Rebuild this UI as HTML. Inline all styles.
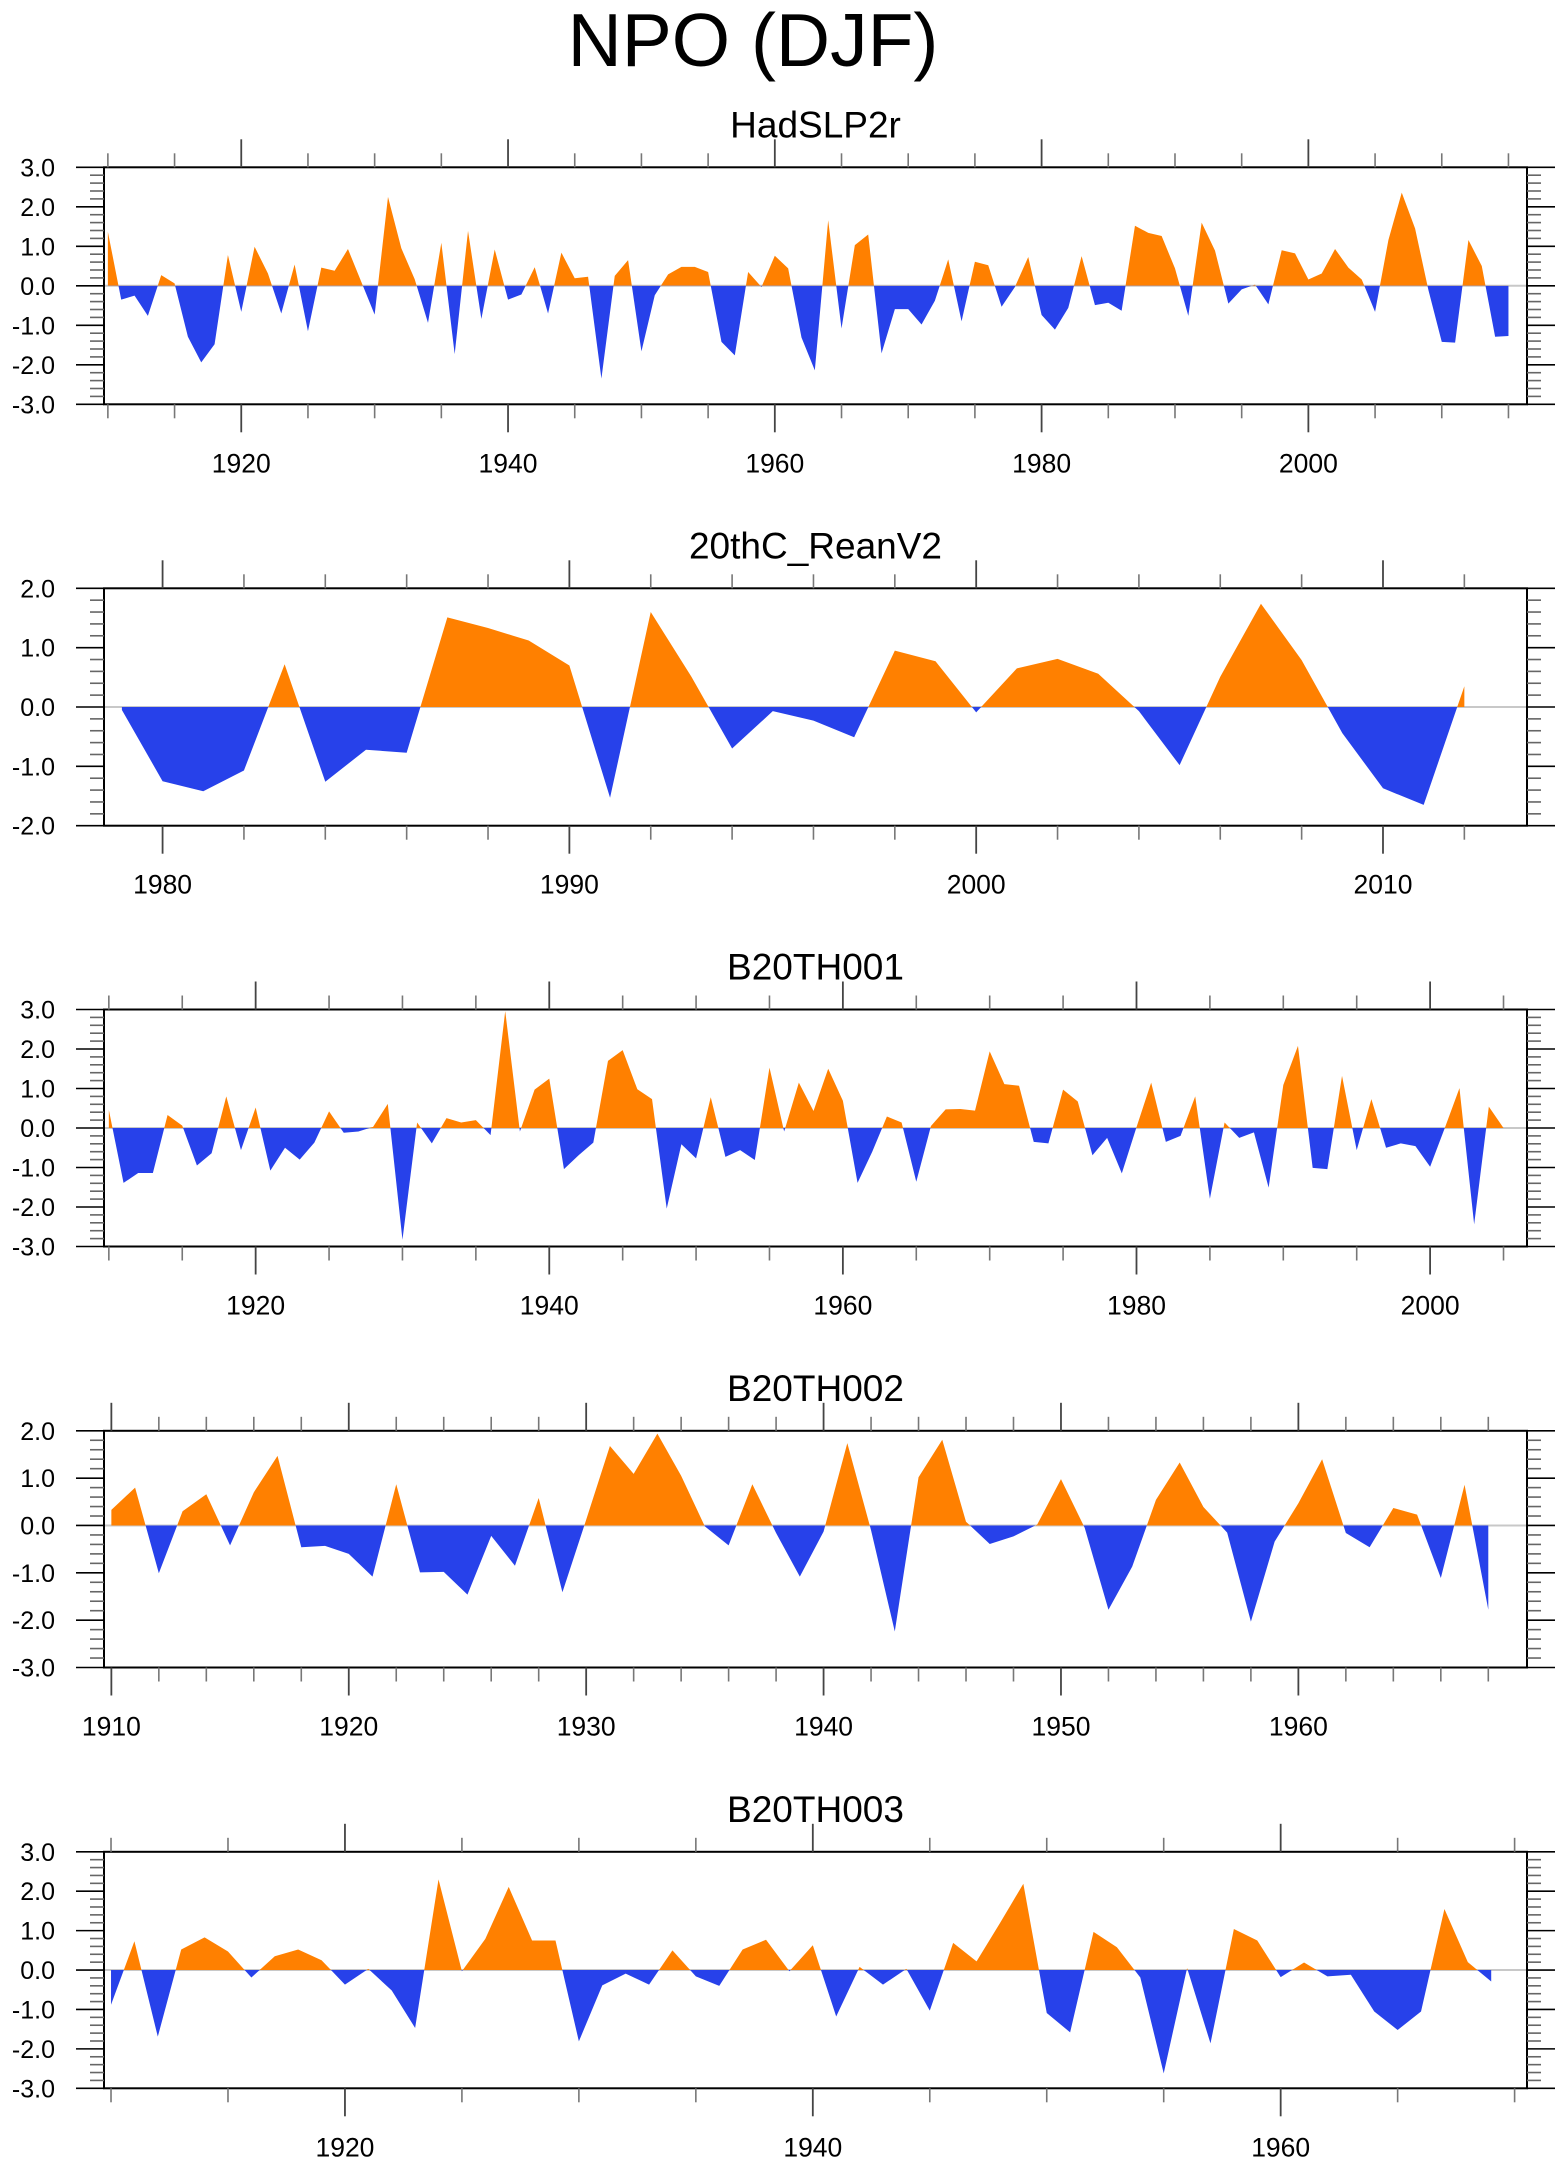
<!DOCTYPE html>
<html>
<head>
<meta charset="utf-8">
<style>
  html, body { margin: 0; padding: 0; background: #fff; }
  body { width: 1560px; height: 2165px; overflow: hidden; }
  svg text { font-family: "Liberation Sans", "DejaVu Sans", sans-serif; fill: #000; }
</style>
</head>
<body>
<svg id="chart" xmlns="http://www.w3.org/2000/svg" width="1560" height="2165" viewBox="0 0 1560 2165">
  <rect x="0" y="0" width="1560" height="2165" fill="#fff"/>
  <text x="753" y="66" font-size="75" text-anchor="middle">NPO (DJF)</text>
</svg>
<script>
// ---------- DATA ----------
const hadYears = [1910, 2015];
const hadValues = [1.37,-0.35,-0.25,-0.76,0.27,0.06,-1.29,-1.94,-1.48,0.78,
  -0.66,0.99,0.31,-0.70,0.54,-1.15,0.46,0.38,0.93,0.10,
  -0.73,2.25,0.95,0.17,-0.94,1.09,-1.73,1.39,-0.84,0.92,
  -0.35,-0.22,0.47,-0.70,0.84,0.19,0.23,-2.35,0.25,0.65,
  -1.66,-0.24,0.29,0.48,0.48,0.35,-1.42,-1.76,0.35,-0.03,
  0.76,0.44,-1.31,-2.14,1.66,-1.08,1.03,1.30,-1.71,-0.59,
  -0.59,-0.98,-0.38,0.67,-0.90,0.61,0.52,-0.53,-0.03,0.73,
  -0.74,-1.11,-0.56,0.75,-0.49,-0.43,-0.63,1.52,1.34,1.26,
  0.44,-0.76,1.60,0.89,-0.45,-0.09,0.03,-0.47,0.90,0.82,
  0.16,0.31,0.93,0.46,0.16,-0.66,1.16,2.36,1.45,-0.11,
  -1.42,-1.44,1.16,0.50,-1.29,-1.27];

const reanYears = [1979, 2012];
const reanValues = [-0.05,-1.25,-1.42,-1.07,0.72,-1.26,-0.72,-0.77,1.51,1.33,
  1.12,0.70,-1.53,1.60,0.51,-0.70,-0.07,-0.23,-0.51,0.95,
  0.77,-0.09,0.65,0.81,0.56,-0.07,-0.98,0.51,1.74,0.79,
  -0.44,-1.37,-1.65,0.35];

const b001Years = [1910, 2005];
const b001Values = [0.46,-1.39,-1.14,-1.14,0.33,0.06,-0.95,-0.64,0.80,-0.56,
  0.52,-1.08,-0.50,-0.80,-0.37,0.42,-0.12,-0.09,0.03,0.61,
  -2.83,0.14,-0.39,0.25,0.14,0.20,-0.18,2.96,-0.09,0.97,
  1.25,-1.04,-0.69,-0.37,1.70,1.97,0.98,0.73,-2.04,-0.41,
  -0.77,0.78,-0.73,-0.56,-0.81,1.53,-0.09,1.15,0.43,1.50,
  0.69,-1.39,-0.60,0.29,0.14,-1.36,0.05,0.47,0.48,0.44,
  1.94,1.11,1.07,-0.35,-0.39,0.97,0.67,-0.69,-0.25,-1.15,
  0.02,1.15,-0.35,-0.20,0.80,-1.79,0.14,-0.25,-0.11,-1.51,
  1.09,2.08,-1.01,-1.04,1.32,-0.56,0.73,-0.50,-0.39,-0.46,
  -0.98,0.00,1.01,-2.44,0.54,0.00];

const b002Years = [1910, 1968];
const b002Values = [0.33,0.80,-1.01,0.30,0.66,-0.42,0.70,1.47,-0.46,-0.43,
  -0.60,-1.08,0.87,-0.99,-0.98,-1.46,-0.22,-0.85,0.58,-1.41,
  0.12,1.68,1.09,1.94,1.05,-0.02,-0.42,0.87,-0.16,-1.08,
  -0.13,1.74,-0.10,-2.24,1.02,1.81,0.08,-0.39,-0.23,0.02,
  0.98,-0.05,-1.78,-0.87,0.54,1.33,0.39,-0.15,-2.03,-0.34,
  0.47,1.40,-0.16,-0.46,0.37,0.23,-1.11,0.86,-1.78];

const b003Years = [1910, 1969];
const b003Values = [-0.88,0.73,-1.69,0.52,0.83,0.47,-0.19,0.35,0.52,0.25,
  -0.37,0.03,-0.52,-1.47,2.30,-0.03,0.79,2.11,0.75,0.75,
  -1.81,-0.39,-0.09,-0.37,0.50,-0.16,-0.40,0.52,0.77,-0.03,
  0.63,-1.18,0.08,-0.37,0.03,-1.03,0.69,0.22,1.19,2.19,
  -1.09,-1.58,0.97,0.58,-0.19,-2.62,0.05,-1.86,1.04,0.75,
  -0.18,0.19,-0.16,-0.12,-1.05,-1.52,-1.05,1.55,0.20,-0.29];

const panelTitles = ["HadSLP2r", "20thC_ReanV2", "B20TH001", "B20TH002", "B20TH003"];
const xMajorLabels1 = [1920, 1940, 1960, 1980, 2000];
const xMajorLabels2 = [1980, 1990, 2000, 2010];
const xMajorLabels3 = [1920, 1940, 1960, 1980, 2000];
const xMajorLabels4 = [1910, 1920, 1930, 1940, 1950, 1960];
const xMajorLabels5 = [1920, 1940, 1960];

// ---------- LAYOUT ----------
const svg = document.getElementById('chart');
const NS = 'http://www.w3.org/2000/svg';
const PL = 104, PR = 1527;
const panels = [
  { key:'hadslp2r', title:panelTitles[0], years:hadYears, vals:hadValues, top:167.3, bot:404.3, dom:[1909.71,2016.39], ymin:-3, ymax:3, majors:xMajorLabels1, minorStep:5, minorFrom:1910, minorTo:2015 },
  { key:'20thc-reanv2', title:panelTitles[1], years:reanYears, vals:reanValues, top:588.3, bot:825.7, dom:[1978.56,2013.54], ymin:-2, ymax:2, majors:xMajorLabels2, minorStep:2, minorFrom:1980, minorTo:2012 },
  { key:'b20th001', title:panelTitles[2], years:b001Years, vals:b001Values, top:1009.5, bot:1246.5, dom:[1909.67,2006.6], ymin:-3, ymax:3, majors:xMajorLabels3, minorStep:5, minorFrom:1910, minorTo:2005 },
  { key:'b20th002', title:panelTitles[3], years:b002Years, vals:b002Values, top:1430.8, bot:1667.5, dom:[1909.69,1969.63], ymin:-3, ymax:2, majors:xMajorLabels4, minorStep:2, minorFrom:1910, minorTo:1968 },
  { key:'b20th003', title:panelTitles[4], years:b003Years, vals:b003Values, top:1851.8, bot:2088.3, dom:[1909.70,1970.53], ymin:-3, ymax:3, majors:xMajorLabels5, minorStep:5, minorFrom:1910, minorTo:1970 }
];

function mk(tag, attrs, parent) {
  const e = document.createElementNS(NS, tag);
  for (const k in attrs) e.setAttribute(k, attrs[k]);
  (parent || svg).appendChild(e);
  return e;
}
function fmt(v) { return v.toFixed(1); }

panels.forEach((p, pi) => {
  const g = mk('g', {});
  
  
  const xs = yr => PL + (yr - p.dom[0]) / (p.dom[1] - p.dom[0]) * (PR - PL);
  const ys = v => p.bot - (v - p.ymin) / (p.ymax - p.ymin) * (p.bot - p.top);
  const y0 = ys(0);

  const t = mk('text', { x: (PL + PR) / 2, y: p.top - 30, 'font-size': 37, 'text-anchor': 'middle' }, g);
  t.textContent = p.title;
  
  

  const n = p.vals.length;
  let pts = [];
  pts.push(xs(p.years[0]).toFixed(2) + ',' + y0.toFixed(2));
  for (let i = 0; i < n; i++) pts.push(xs(p.years[0] + i).toFixed(2) + ',' + ys(p.vals[i]).toFixed(2));
  pts.push(xs(p.years[0] + n - 1).toFixed(2) + ',' + y0.toFixed(2));
  const ptsStr = pts.join(' ');

  const defs = mk('defs', {}, g);
  const cpA = mk('clipPath', { id: 'above' + pi }, defs);
  mk('rect', { x: PL, y: p.top, width: PR - PL, height: y0 - p.top }, cpA);
  const cpB = mk('clipPath', { id: 'below' + pi }, defs);
  mk('rect', { x: PL, y: y0, width: PR - PL, height: p.bot - y0 }, cpB);

  const zl = mk('line', { x1: PL, x2: PR, y1: y0, y2: y0, stroke: '#c8c8c8', 'stroke-width': 2 }, g);
  
  

  const pos = mk('polygon', { points: ptsStr, fill: '#ff8000', 'clip-path': 'url(#above' + pi + ')' }, g);
  
  
  const neg = mk('polygon', { points: ptsStr, fill: '#2741ea', 'clip-path': 'url(#below' + pi + ')' }, g);
  
  

  const fr = mk('rect', { x: PL, y: p.top, width: PR - PL, height: p.bot - p.top, fill: 'none', stroke: '#000', 'stroke-width': 2 }, g);
  
  

  const steps = Math.round((p.ymax - p.ymin) / 0.2);
  for (let i = 0; i <= steps; i++) {
    const v = p.ymin + i * 0.2;
    const yy = ys(v);
    const major = Math.abs(v - Math.round(v)) < 1e-6;
    const len = major ? 28 : 14;
    const col = major ? '#000' : '#666';
    const lt = mk('line', { x1: PL - len, x2: PL, y1: yy, y2: yy, stroke: col, 'stroke-width': 1.6 }, g);
    
    
    const rt = mk('line', { x1: PR, x2: PR + len, y1: yy, y2: yy, stroke: col, 'stroke-width': 1.6 }, g);
    
    
    if (major) {
      const lb = mk('text', { x: 55, y: yy + 9, 'font-size': 25, 'text-anchor': 'end' }, g);
      lb.textContent = fmt(Math.round(v));
      
      
    }
  }

  for (let yr = p.minorFrom; yr <= p.minorTo; yr += p.minorStep) {
    if (p.majors.indexOf(yr) >= 0) continue;
    const xx = xs(yr);
    const a = mk('line', { x1: xx, x2: xx, y1: p.top - 14, y2: p.top, stroke: '#777', 'stroke-width': 1.6 }, g);
    
    
    const b = mk('line', { x1: xx, x2: xx, y1: p.bot, y2: p.bot + 14, stroke: '#777', 'stroke-width': 1.6 }, g);
    
    
  }
  p.majors.forEach(yr => {
    const xx = xs(yr);
    const a = mk('line', { x1: xx, x2: xx, y1: p.top - 28, y2: p.top, stroke: '#444', 'stroke-width': 1.8 }, g);
    
    
    const b = mk('line', { x1: xx, x2: xx, y1: p.bot, y2: p.bot + 28, stroke: '#444', 'stroke-width': 1.8 }, g);
    
    
    const lb = mk('text', { x: xx, y: p.bot + 68, 'font-size': 26.5, 'text-anchor': 'middle' }, g);
    lb.textContent = String(yr);
    
    
  });
});
</script>
</body>
</html>
